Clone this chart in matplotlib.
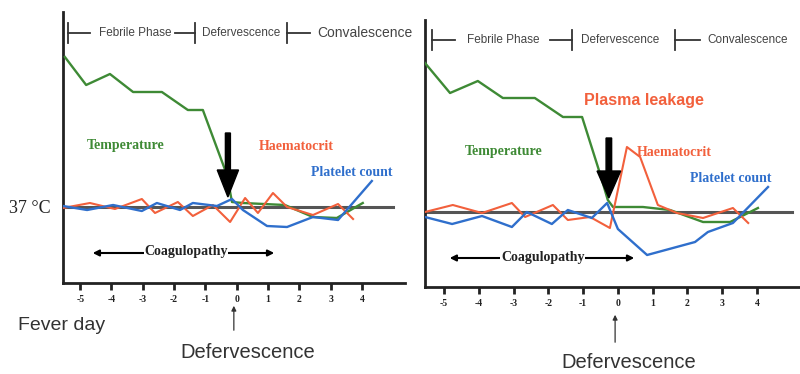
import matplotlib
matplotlib.use("Agg")
import matplotlib.pyplot as plt

# ── data (fever day, arbitrary level; 0 = 37 °C baseline) ──────────
days = [-5, -4, -3, -2, -1, 0, 1, 2, 3, 4]
day_labels = ["-5", "-4", "-3", "-2", "-1", "0", "1", "2", "3", "4"]

# left panel
temp_l_x = [-5.49, -4.81, -4.05, -3.31, -2.39, -1.56, -1.08, -0.31, -0.15, 0.2, 1.54, 2.44, 3.2, 4.03]
temp_l_y = [15.0, 12.2, 13.3, 11.5, 11.5, 9.7, 9.7, 3.2, 0.5, 0.4, 0.2, -1.0, -1.1, 0.4]
hct_l_x = [-5.55, -4.69, -3.89, -3.03, -2.61, -1.88, -1.40, -0.76, -0.21, 0.27, 0.68, 1.16, 1.61, 2.44, 3.24, 3.72]
hct_l_y = [-0.1, 0.4, -0.2, 0.8, -0.6, 0.5, -0.9, 0.2, -1.5, 0.9, -0.6, 1.4, 0.0, -0.8, 0.3, -1.2]
plt_l_x = [-5.55, -4.78, -3.95, -3.03, -2.55, -1.81, -1.40, -0.63, -0.15, 0.20, 0.97, 1.61, 2.44, 3.24, 4.32]
plt_l_y = [0.1, -0.3, 0.2, -0.4, 0.4, -0.3, 0.4, 0.1, 0.8, -0.3, -1.9, -2.0, -1.0, -1.3, 2.6]

# right panel
temp_r_x = [-5.55, -4.83, -4.03, -3.31, -2.39, -1.58, -1.03, -0.52, -0.29, -0.14, 0.72, 1.50, 2.45, 3.23, 4.03]
temp_r_y = [14.9, 11.9, 13.1, 11.4, 11.4, 9.5, 9.5, 3.9, 1.2, 0.5, 0.5, 0.2, -1.0, -1.0, 0.4]
hct_r_x = [-5.55, -4.75, -3.91, -3.05, -2.67, -1.87, -1.44, -0.80, -0.23, 0.26, 0.64, 1.15, 1.70, 2.45, 3.31, 3.75]
hct_r_y = [0.0, 0.7, -0.1, 0.9, -0.5, 0.7, -0.8, -0.5, -1.6, 6.5, 5.5, 0.7, -0.1, -0.6, 0.4, -1.1]
plt_r_x = [-5.55, -4.77, -3.91, -3.05, -2.62, -1.90, -1.44, -0.75, -0.31, 0.00, 0.84, 2.22, 2.59, 3.31, 4.32]
plt_r_y = [-0.5, -1.2, -0.4, -1.5, 0.0, -1.2, 0.2, -0.6, 0.9, -1.7, -4.3, -3.0, -2.0, -1.1, 2.5]

GREEN = "#3e8a35"
RED = "#f2603c"
BLUE = "#2f6fcc"
SERIF = "Liberation Serif"
SANS = "Liberation Sans"

fig = plt.figure(figsize=(8, 3.74), dpi=100)
fig.patch.set_facecolor("white")

W, H = 800, 374


def make_ax(px0, px1, py0, py1, xlim, ylim):
    ax = fig.add_axes([px0 / W, 1 - py1 / H, (px1 - px0) / W, (py1 - py0) / H])
    ax.set_xlim(*xlim)
    ax.set_ylim(*ylim)
    for s in ("top", "right"):
        ax.spines[s].set_visible(False)
    for s in ("left", "bottom"):
        ax.spines[s].set_linewidth(2.0)
        ax.spines[s].set_color("#222")
    ax.set_yticks([])
    ax.set_xticks(days)
    ax.set_xticklabels(day_labels, fontfamily=SERIF, fontweight="bold",
                       fontsize=7, color="#222")
    ax.tick_params(axis="x", direction="out", length=5, width=2,
                   color="#222", pad=4)
    ax.patch.set_alpha(0)
    return ax


def phase_bar(ax, y, bar0, l0, feb, l1a, bar1, defv, bar2, l2, conv, conv_fs):
    k = dict(color="#333", lw=1.3, clip_on=False)
    ax.plot([bar0, bar0], [y - 1.0, y + 1.0], **k)
    ax.plot([bar0, l0], [y, y], **k)
    ax.plot([l1a, bar1], [y, y], **k)
    ax.plot([bar1, bar1], [y - 1.0, y + 1.0], **k)
    ax.plot([bar2, bar2], [y - 1.0, y + 1.0], **k)
    ax.plot([bar2, l2], [y, y], **k)
    t = dict(ha="center", va="center", fontfamily=SANS, color="#444",
             clip_on=False)
    ax.text(feb, y, "Febrile Phase", fontsize=8.5, **t)
    ax.text(defv, y, "Defervescence", fontsize=8.5, **t)
    ax.text(conv, y, "Convalescence", fontsize=conv_fs, **t)


def panel(ax, tx, ty, hx, hy, px, py, base_end, arrow_x, arrow_top, arrow_tip):
    ax.axhline(0, xmin=0, xmax=base_end, color="#555", lw=2.2, zorder=1)
    ax.plot(tx, ty, color=GREEN, lw=1.7, zorder=3)
    ax.plot(hx, hy, color=RED, lw=1.5, zorder=3)
    ax.plot(px, py, color=BLUE, lw=1.7, zorder=3)
    ax.arrow(arrow_x, arrow_top, 0, arrow_tip - arrow_top, width=0.16,
             head_width=0.68, head_length=2.7, length_includes_head=True,
             fc="black", ec="black", zorder=5)


# ── left panel ──────────────────────────────────────────────────────
axl = make_ax(63, 405, 12, 283, (-5.55, 5.38), (-7.6, 19.5))
panel(axl, temp_l_x, temp_l_y, hct_l_x, hct_l_y, plt_l_x, plt_l_y,
      (393 - 63) / (405 - 63), -0.28, 7.4, 1.0)
phase_bar(axl, 17.4, -5.39, -4.69, -3.25, -1.97, -1.33, 0.14, 1.61, 2.34,
          4.10, 10)

lab = dict(ha="center", va="center", fontfamily=SERIF, fontweight="bold",
           fontsize=10)
axl.text(-3.54, 6.2, "Temperature", color=GREEN, **lab)
axl.text(1.90, 6.0, "Haematocrit", color=RED, **lab)
axl.text(3.68, 3.4, "Platelet count", color=BLUE, **lab)
axl.annotate("", xy=(-4.69, -4.6), xytext=(1.29, -4.6),
             arrowprops=dict(arrowstyle="<|-|>", color="black", lw=1.5,
                             mutation_scale=9))
axl.text(-1.62, -4.5, "Coagulopathy", color="#222",
         bbox=dict(fc="white", ec="none", pad=0.5), **lab)
axl.text(-6.6, -0.15, "37 \u00b0C", ha="center", va="center",
         fontfamily=SERIF, fontsize=13, color="#222", clip_on=False)
axl.text(-5.58, -11.8, "Fever day", ha="center", va="center",
         fontfamily=SANS, fontsize=14, color="#333", clip_on=False)
axl.text(0.36, -14.6, "Defervescence", ha="center", va="center",
         fontfamily=SANS, fontsize=14.5, color="#333", clip_on=False)
axl.annotate("", xy=(-0.09, -9.6), xytext=(-0.09, -12.6),
             arrowprops=dict(arrowstyle="-|>", color="#333", lw=0.9,
                             mutation_scale=7), annotation_clip=False)

# ── right panel ─────────────────────────────────────────────────────
axr = make_ax(425, 800, 20, 287, (-5.55, 5.24), (-7.5, 19.2))
panel(axr, temp_r_x, temp_r_y, hct_r_x, hct_r_y, plt_r_x, plt_r_y,
      (792 - 425) / (800 - 425), -0.26, 7.4, 1.4)
phase_bar(axr, 17.2, -5.35, -4.69, -3.31, -1.95, -1.32, 0.06, 1.64, 2.36,
          3.72, 8.5)

axr.text(0.75, 11.2, "Plasma leakage", ha="center", va="center",
         fontfamily=SANS, fontweight="bold", fontsize=11.5, color=RED)
axr.text(-3.28, 6.1, "Temperature", color=GREEN, **lab)
axr.text(1.62, 6.0, "Haematocrit", color=RED, **lab)
axr.text(3.26, 3.4, "Platelet count", color=BLUE, **lab)
axr.annotate("", xy=(-4.92, -4.6), xytext=(0.55, -4.6),
             arrowprops=dict(arrowstyle="<|-|>", color="black", lw=1.5,
                             mutation_scale=9))
axr.text(-2.16, -4.6, "Coagulopathy", color="#222",
         bbox=dict(fc="white", ec="none", pad=0.5), **lab)
axr.text(0.32, -15.0, "Defervescence", ha="center", va="center",
         fontfamily=SANS, fontsize=14.5, color="#333", clip_on=False)
axr.annotate("", xy=(-0.08, -10.0), xytext=(-0.08, -13.3),
             arrowprops=dict(arrowstyle="-|>", color="#333", lw=0.9,
                             mutation_scale=7), annotation_clip=False)

fig.savefig("out.png", dpi=100, facecolor="white")
